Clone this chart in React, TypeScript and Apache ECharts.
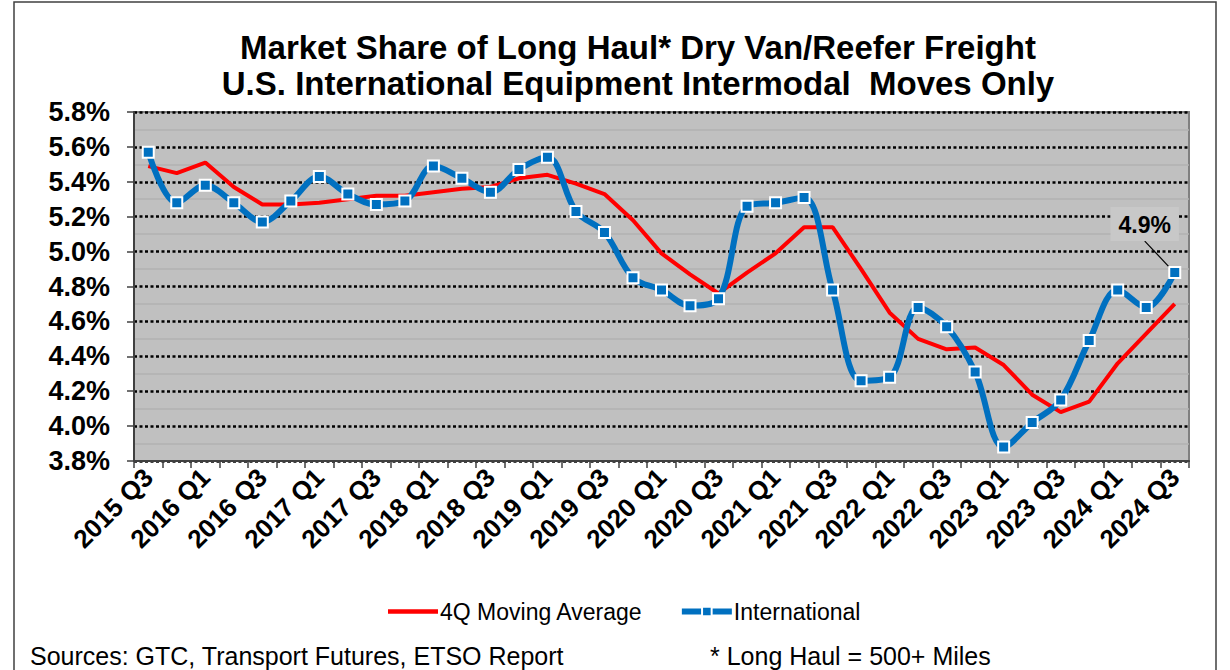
import React, { useEffect, useRef } from "react";
import * as echarts from "echarts";

const categories = [
  "2015 Q3", "2015 Q4", "2016 Q1", "2016 Q2", "2016 Q3", "2016 Q4",
  "2017 Q1", "2017 Q2", "2017 Q3", "2017 Q4", "2018 Q1", "2018 Q2",
  "2018 Q3", "2018 Q4", "2019 Q1", "2019 Q2", "2019 Q3", "2019 Q4",
  "2020 Q1", "2020 Q2", "2020 Q3", "2020 Q4", "2021 Q1", "2021 Q2",
  "2021 Q3", "2021 Q4", "2022 Q1", "2022 Q2", "2022 Q3", "2022 Q4",
  "2023 Q1", "2023 Q2", "2023 Q3", "2023 Q4", "2024 Q1", "2024 Q2",
  "2024 Q3",
];

const movingAverage = [
  5.49, 5.45, 5.51, 5.37, 5.27, 5.27, 5.28, 5.30, 5.32, 5.32,
  5.34, 5.36, 5.37, 5.42, 5.44, 5.39, 5.33, 5.18, 4.99, 4.87,
  4.76, 4.88, 4.99, 5.14, 5.14, 4.90, 4.65, 4.50, 4.44, 4.45,
  4.35, 4.18, 4.08, 4.14, 4.36, 4.53, 4.70,
];

const international = [
  5.57, 5.28, 5.38, 5.28, 5.17, 5.29, 5.43, 5.33, 5.27, 5.29,
  5.49, 5.42, 5.34, 5.47, 5.54, 5.23, 5.11, 4.85, 4.78, 4.69,
  4.73, 5.26, 5.28, 5.31, 4.78, 4.26, 4.28, 4.68, 4.57, 4.31,
  3.88, 4.02, 4.15, 4.49, 4.78, 4.68, 4.88,
];

const lastLabel = "4.9%";
const yMin = 3.8;
const yMax = 5.8;
const yStep = 0.2;

const titleText =
  "Market Share of Long Haul* Dry Van/Reefer Freight\nU.S. International Equipment Intermodal  Moves Only";
const sourceText = "Sources: GTC, Transport Futures, ETSO Report";
const noteText = "* Long Haul = 500+ Miles";

const FONT = "'Liberation Sans', Arial, sans-serif";

export default function App() {
  const ref = useRef<HTMLDivElement>(null);

  useEffect(() => {
    if (!ref.current) return;
    const chart = echarts.init(ref.current, null, { renderer: "svg" });

    const intlData = international.map((v, i) =>
      i === international.length - 1
        ? {
            value: v,
            label: {
              show: true,
              formatter: lastLabel,
              position: "top",
              fontSize: 23,
              fontWeight: "bold",
              color: "#000",
              backgroundColor: "#c8c8c8",
              padding: [6, 8, 5, 8],
            },
            labelLine: { show: true, lineStyle: { color: "#000", width: 1.2 } },
          }
        : v
    );

    chart.setOption({
      animation: false,
      textStyle: { fontFamily: FONT },
      title: [
        {
          text: titleText,
          left: 638,
          top: 29,
          padding: 0,
          textAlign: "center",
          textStyle: {
            fontFamily: FONT,
            fontSize: 33,
            fontWeight: "bold",
            color: "#000",
            lineHeight: 36,
          },
        },
        {
          text: sourceText,
          left: 30,
          top: 643,
          padding: 0,
          textStyle: { fontFamily: FONT, fontSize: 25, fontWeight: "normal", color: "#000" },
        },
        {
          text: noteText,
          left: 710,
          top: 643,
          padding: 0,
          textStyle: { fontFamily: FONT, fontSize: 25, fontWeight: "normal", color: "#000" },
        },
      ],
      graphic: [
        {
          type: "rect",
          shape: { x: 14, y: 2, width: 1202, height: 700 },
          style: { fill: "none", stroke: "#404040", lineWidth: 1.5 },
          silent: true,
        },
      ],
      legend: {
        left: 383,
        top: 595,
        itemWidth: 50,
        itemHeight: 12,
        itemGap: 36,
        textStyle: { fontFamily: FONT, fontSize: 23, color: "#000", padding: [0, 0, 0, -3] },
        data: [
          { name: "4Q Moving Average", icon: "path://M0 0H100V9H0Z" },
          { name: "International", lineStyle: { width: 6 } },
        ],
      },
      grid: {
        left: 134,
        top: 112,
        right: 41,
        bottom: 209,
        show: true,
        backgroundColor: "#c0c0c0",
        borderColor: "#808080",
        borderWidth: 2,
        outerBoundsMode: "none",
        containLabel: false,
      },
      xAxis: {
        type: "category",
        data: categories,
        boundaryGap: true,
        axisLine: { show: true, lineStyle: { color: "#404040", width: 2 } },
        axisTick: { show: true, interval: 0, length: 7, lineStyle: { color: "#404040", width: 1.5 } },
        axisLabel: {
          interval: 1,
          rotate: 45,
          margin: 12,
          fontSize: 26,
          fontWeight: "bold",
          color: "#000",
          fontFamily: FONT,
        },
        splitLine: { show: false },
      },
      yAxis: {
        type: "value",
        min: yMin,
        max: yMax,
        interval: yStep,
        axisLine: { show: true, lineStyle: { color: "#404040", width: 2 } },
        axisTick: { show: true, length: 7, lineStyle: { color: "#404040", width: 1.5 } },
        axisLabel: {
          margin: 24,
          fontSize: 27,
          fontWeight: "bold",
          color: "#000",
          fontFamily: FONT,
          formatter: (v: number) => v.toFixed(1) + "%",
        },
        splitLine: {
          show: true,
          lineStyle: { color: "#000", width: 2.5, type: [3, 2.5] },
        },
        minorTick: { show: false, splitNumber: 2 },
        minorSplitLine: { show: true, lineStyle: { color: "#b2b2b2", width: 1.5 } },
      },
      series: [
        {
          name: "4Q Moving Average",
          type: "line",
          data: movingAverage,
          symbol: "none",
          smooth: false,
          lineStyle: { color: "#ff0000", width: 4 },
          itemStyle: { color: "#ff0000" },
          z: 2,
        },
        {
          name: "International",
          type: "line",
          data: intlData,
          smooth: 0.35,
          symbol: "rect",
          symbolSize: 11,
          lineStyle: { color: "#0070c0", width: 6 },
          itemStyle: { color: "#0070c0", borderColor: "#ffffff", borderWidth: 2 },
          labelLayout: { dx: -30, dy: -20 },
          z: 3,
        },
      ],
    });

    return () => chart.dispose();
  }, []);

  return (
    <div
      ref={ref}
      style={{ position: "fixed", left: 0, top: 0, width: 1230, height: 670, background: "#fff" }}
    />
  );
}
